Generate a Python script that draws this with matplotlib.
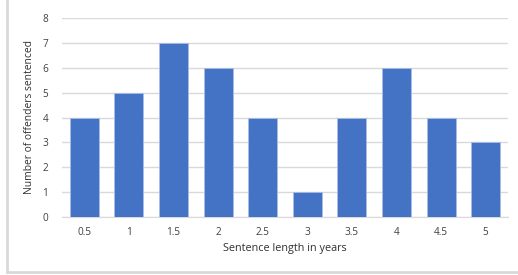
import matplotlib
matplotlib.use("Agg")
import matplotlib.pyplot as plt
from matplotlib.lines import Line2D

categories = ["0.5", "1", "1.5", "2", "2.5", "3", "3.5", "4", "4.5", "5"]
counts = [4, 5, 7, 6, 4, 1, 4, 6, 4, 3]
y_ticks = [0, 1, 2, 3, 4, 5, 6, 7, 8]

W, H = 518, 275
fig = plt.figure(figsize=(W / 100, H / 100), dpi=100)
plt.rcParams['font.family'] = ['Open Sans', 'DejaVu Sans']

# plot area in pixels: x 62..508, y 18..217
left, right, top, bottom = 62, 508, 18, 217
ax = fig.add_axes([left / W, 1 - bottom / H, (right - left) / W, (bottom - top) / H])

x = list(range(len(categories)))
ax.bar(x, counts, width=0.65, color="#4472C4", edgecolor="#A9BEE6", linewidth=0.6, zorder=3)
ax.set_xlim(-0.5, len(categories) - 0.5)
ax.set_ylim(0, 8)
ax.set_yticks(y_ticks)
ax.set_xticks(x)
ax.set_xticklabels(categories)
ax.grid(axis="y", color="#D9D9D9", linewidth=1, zorder=0)
for s in ["top", "right", "left"]:
    ax.spines[s].set_visible(False)
ax.spines["bottom"].set_color("#D9D9D9")
ax.tick_params(axis="both", length=0, labelsize=7.2, colors="#404040")
ax.tick_params(axis="x", pad=7)
ax.tick_params(axis="y", pad=10)
ax.set_xlabel("Sentence length in years", fontsize=7.8, color="#303030", labelpad=4)
ax.set_ylabel("Number of offenders sentenced", fontsize=7.4, color="#303030", labelpad=5)

# light border on the left and bottom of the chart area
fig.add_artist(Line2D([7 / W, 7 / W], [1 - 272 / H, 1.0], transform=fig.transFigure,
                      color="#D9D9D9", linewidth=2))
fig.add_artist(Line2D([7 / W, 1.0], [1 - 272 / H, 1 - 272 / H], transform=fig.transFigure,
                      color="#D9D9D9", linewidth=2))

fig.savefig("out.png", dpi=100, facecolor="white")
